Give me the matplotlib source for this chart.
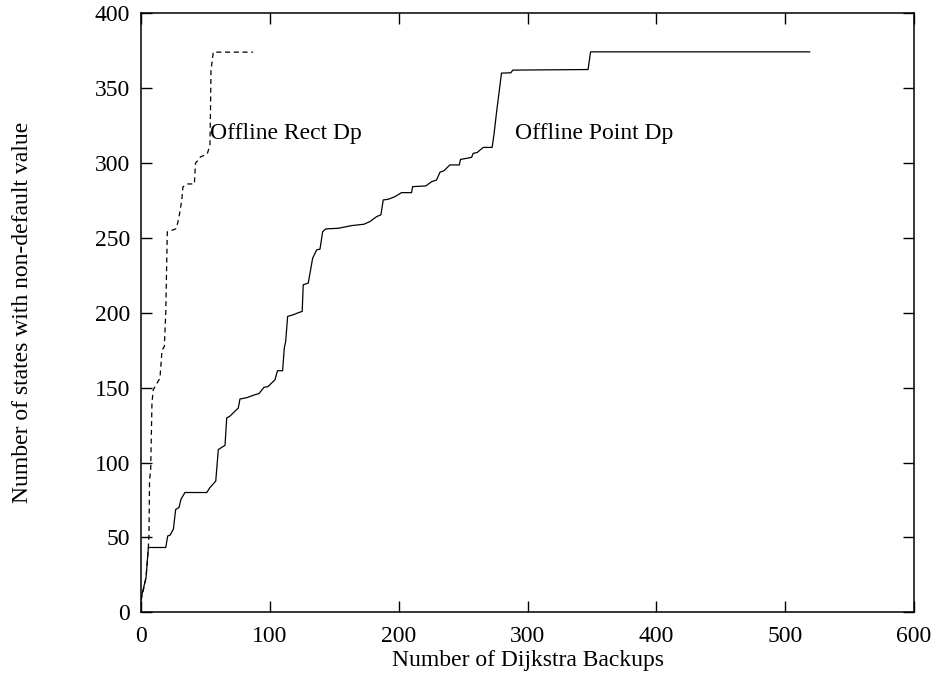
import matplotlib
matplotlib.use("Agg")
import matplotlib.pyplot as plt

plt.rcParams['font.family'] = ['Liberation Serif', 'DejaVu Serif']

# Offline Rect Dp (dashed)
rect_x = [0, 0.8, 3.9, 5.7, 6.2, 6.6, 7.5, 8.5, 9.5, 14.7, 16.3, 18.1, 19.2,
          20.4, 26.9, 28.5, 29.7, 31.6, 32.5, 35.9, 41.4, 42.3, 44.5, 46.0,
          51.4, 53.5, 54.0, 54.3, 56.1, 87.0]
rect_y = [8, 10.7, 23.3, 43.3, 53, 87.6, 95.3, 140, 148.6, 156.4, 175, 177.5, 200,
          254, 256, 260, 265, 275, 284, 286, 286, 300, 302, 304,
          306, 312, 340, 362, 374, 374]

# Offline Point Dp (solid)
point_x = [0, 0.5, 3.9, 5.7, 19.2, 20.7, 22.5, 25.1, 26.9, 29.5, 31.0, 34.1,
           51.0, 53.5, 58.0, 60.0, 65.2, 66.5, 69.0, 75.5, 76.8, 82.0, 88.4,
           91.5, 95.4, 98.5, 104.0, 105.9, 109.9, 111.2, 112.3, 113.8, 118.2,
           122.6, 125.1, 125.9, 129.8, 133.2, 136.3, 138.9, 141.0, 143.5,
           153.1, 163.5, 173.0, 177.7, 182.9, 186.2, 188.0, 191.9, 197.0,
           202.2, 210.0, 210.8, 221.1, 225.5, 229.4, 232.0, 235.1, 239.7,
           247.0, 248.0, 252.7, 256.6, 257.8, 260.9, 265.6, 272.5, 273.9,
           276.0, 279.8, 287.0, 288.6, 347.0, 348.9, 519.0]
point_y = [10, 11, 23.3, 43.3, 43.3, 51, 51.5, 55.5, 68.7, 70, 75.5, 80,
           80, 83.3, 87.6, 108.7, 111.5, 129.8, 131, 136.4, 142.4, 143.3, 145.3,
           146, 150.2, 150.7, 155.3, 161.3, 161.3, 176.4, 181, 197.6, 198.7,
           200.2, 200.9, 218.7, 219.8, 236.4, 242, 242.5, 254.2, 256,
           256.4, 258.2, 259.1, 260.9, 264.2, 265.4, 275.3, 275.8, 277.5,
           280.2, 280.2, 284.2, 284.7, 287.5, 288.6, 293.8, 294.8, 298.7,
           298.7, 302.4, 303.1, 303.8, 306.4, 307, 310.4, 310.4, 318.6,
           334.2, 360, 360.2, 362, 362.4, 374.2, 374.2]

fig = plt.figure(figsize=(9.37, 6.77), dpi=100)
ax = fig.add_axes([0.1505, 0.0955, 0.825, 0.885])

ax.plot(point_x, point_y, color='black', lw=0.9)
ax.plot(rect_x, rect_y, color='black', lw=0.9, dashes=(4, 3))

ax.text(53.5, 320, "Offline Rect Dp", fontsize=17, va='center', ha='left')
ax.text(290, 320, "Offline Point Dp", fontsize=17, va='center', ha='left')

ax.set_xlim(0, 600)
ax.set_ylim(0, 400)
ax.set_xticks(range(0, 601, 100))
ax.set_yticks(range(0, 401, 50))
ax.tick_params(direction='in', top=True, right=True, length=8, width=1,
               labelsize=17)
ax.tick_params(axis='x', pad=10)
ax.tick_params(axis='y', pad=8)
for s in ax.spines.values():
    s.set_linewidth(1.1)

ax.set_xlabel("Number of Dijkstra Backups", fontsize=17, labelpad=2)
ax.set_ylabel("Number of states with non-default value", fontsize=17, labelpad=44)

fig.savefig("out.png", dpi=100)
